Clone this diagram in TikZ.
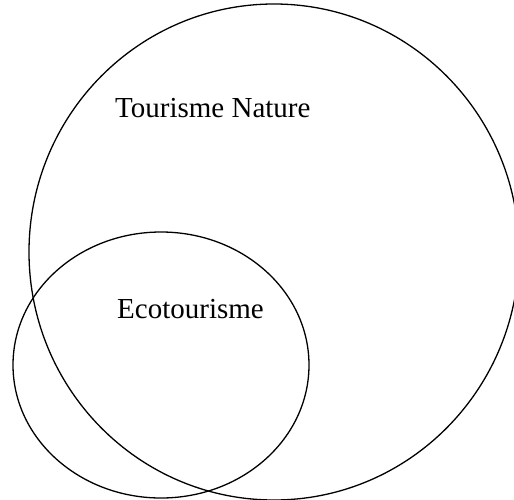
\documentclass[tikz,border=0pt]{standalone}
\usepackage{fontspec}
\setmainfont{Liberation Serif}
\begin{document}
\begin{tikzpicture}[x=1pt,y=-1pt,
  ring/.style={draw=black,line width=1.3pt},
  lbl/.style={anchor=base west,inner sep=0pt,font=\fontsize{29}{35}\selectfont}]
\useasboundingbox (0,0) rectangle (514,499);
\clip (0,0) rectangle (514,499);
\fill[white] (0,0) rectangle (514,499);
\draw[ring] (274,252) ellipse [x radius=245, y radius=248];
\draw[ring] (161,365) ellipse [x radius=148, y radius=133];
\node[lbl] (tn) at (115,117) {Tourisme Nature};
\node[lbl] (eco) at (117,318) {Ecotourisme};
\end{tikzpicture}
\end{document}
